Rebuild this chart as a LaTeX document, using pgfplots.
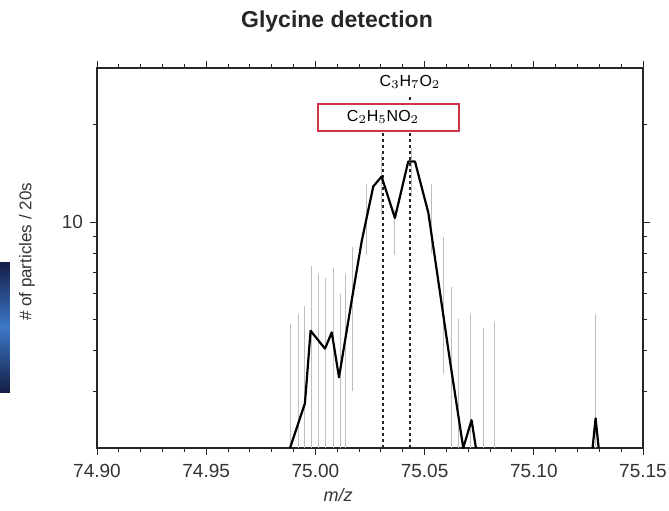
\documentclass[border=0pt]{standalone}
\usepackage{fontspec}
\setmainfont{Liberation Sans}
\usepackage{pgfplots}
\pgfplotsset{compat=1.18}
\definecolor{boxred}{RGB}{208,52,72}
\definecolor{errgray}{RGB}{190,190,190}
\definecolor{navy}{RGB}{20,30,70}
\definecolor{glow}{RGB}{60,120,200}
\begin{document}
\begin{tikzpicture}[x=1pt,y=1pt]
\useasboundingbox (-48.5,-31) rectangle (286,224);
% stray image edge at the left
\shade[top color=navy, bottom color=navy, middle color=glow] (-48.5,28) rectangle (-43.5,93);
\begin{axis}[
  at={(0,0)}, anchor=south west,
  width=273pt, height=190pt, scale only axis,
  xmin=74.90, xmax=75.15,
  ymode=log, ymin=2, ymax=30,
  xtick={74.90,74.95,75.00,75.05,75.10,75.15},
  minor x tick num=4,
  ytick={10}, yticklabels={10},
  extra y ticks={3,4,5,6,7,8,9,20},
  extra y tick labels={},
  extra y tick style={major tick length=2pt, grid=none},
  xticklabel style={/pgf/number format/.cd, fixed, fixed zerofill, precision=2},
  /pgf/number format/assume math mode=true,
  tick label style={font=\fontsize{9.5}{10}\selectfont, text=black!80},
  tick align=outside,
  major tick length=3.5pt, minor tick length=2pt,
  axis line style={line width=0.6pt, black!85},
  every tick/.style={black!85, line width=0.5pt},
  xticklabel shift=1pt,
  yticklabel shift=0pt,
  clip=true,
]
% error bars
\addplot[errgray, line width=0.5pt, unbounded coords=jump] coordinates {
  (74.9887,2) (74.9887,4.85) (74.9887,nan)
  (74.9922,2) (74.9922,5.2) (74.9922,nan)
  (74.9952,2) (74.9952,5.5) (74.9952,nan)
  (74.9983,2) (74.9983,7.3) (74.9983,nan)
  (75.0013,2) (75.0013,6.9) (75.0013,nan)
  (75.0044,2) (75.0044,6.7) (75.0044,nan)
  (75.0082,2) (75.0082,7.2) (75.0082,nan)
  (75.0113,2) (75.0113,6.0) (75.0113,nan)
  (75.0140,2) (75.0140,6.9) (75.0140,nan)
  (75.0171,3.0) (75.0171,8.4) (75.0171,nan)
  (75.0235,7.9) (75.0235,13.1) (75.0235,nan)
  (75.0303,10.5) (75.0303,16.3) (75.0303,nan)
  (75.0364,7.9) (75.0364,11.0) (75.0364,nan)
  (75.0440,12.0) (75.0440,17.0) (75.0440,nan)
  (75.0532,8.0) (75.0532,13.1) (75.0532,nan)
  (75.0586,3.4) (75.0586,9.0) (75.0586,nan)
  (75.0624,2) (75.0624,6.3) (75.0624,nan)
  (75.0654,2) (75.0654,5.0) (75.0654,nan)
  (75.0708,2) (75.0708,5.2) (75.0708,nan)
  (75.0769,2) (75.0769,4.7) (75.0769,nan)
  (75.0820,2) (75.0820,4.9) (75.0820,nan)
  (75.1283,2) (75.1283,5.2) (75.1283,nan)
};
% reference masses
\addplot[black!85, line width=0.9pt, dash pattern=on 1.5pt off 1.5pt] coordinates {(75.0311,2) (75.0311,19)};
\addplot[black!85, line width=0.9pt, dash pattern=on 1.5pt off 1.5pt] coordinates {(75.0433,2) (75.0433,24.5)};
% counts
\addplot[black, line width=1.1pt, line join=round] coordinates {
  (74.9884,2) (74.9952,2.75) (74.9978,4.61) (75.0044,4.06) (75.0075,4.56)
  (75.0108,3.31) (75.0171,5.99) (75.0212,8.73) (75.0265,12.9) (75.0303,13.84)
  (75.0364,10.3) (75.0425,15.4) (75.0456,15.4) (75.0517,10.7) (75.0616,3.73)
  (75.0677,2) (75.0715,2.44) (75.0735,2)
};
\addplot[black, line width=1.1pt, line join=round] coordinates {
  (75.1269,2) (75.1283,2.47) (75.1297,2)
};
\end{axis}
% formula labels
\node[font=\fontsize{8}{9}\selectfont] at (156.5,183) {C$_3$H$_7$O$_2$};
\draw[boxred, line width=1pt, fill=white] (110.5,158.5) rectangle (181,172);
\node[font=\fontsize{8}{9}\selectfont] at (143,165.5) {C$_2$H$_5$NO$_2$};
% titles
\node[font=\bfseries\fontsize{11.5}{13}\selectfont, text=black!85] at (120,213) {Glycine detection};
\node[font=\itshape\fontsize{9}{10}\selectfont, text=black!80] at (120.5,-23.5) {m/z};
\node[font=\fontsize{8.5}{10}\selectfont, text=black!80, rotate=90] at (-35,98) {\# of particles / 20s};
\end{tikzpicture}
\end{document}
